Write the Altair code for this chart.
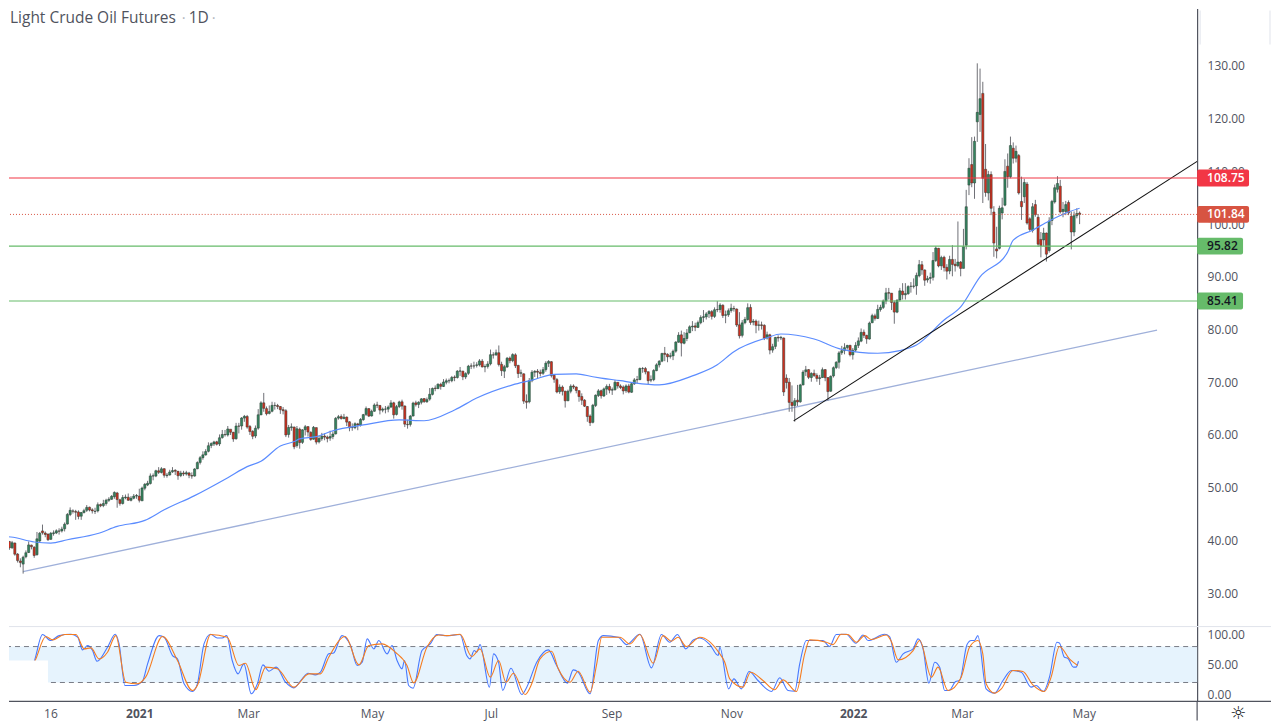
import altair as alt
import pandas as pd

# daily candles, Oct 2020 - Apr 2022
opens = [
    41.70, 40.10, 40.64, 39.80, 38.60, 39.50, 37.40, 36.10, 35.50, 36.90,
    37.70, 39.10, 38.70, 37.30, 39.90, 41.80, 41.40, 41.20, 40.20, 41.30,
    41.40, 41.80, 41.80, 42.20, 43.10, 44.90, 45.60, 45.50, 45.40,
    44.60, 45.30, 45.70, 46.30, 45.80, 45.50, 45.60, 46.80, 46.60, 47.00,
    47.60, 47.80, 48.30, 49.00, 47.70, 47.00, 48.10, 48.20, 47.60, 48.00,
    48.40, 48.40, 47.50, 49.90, 50.50, 50.80, 52.20, 52.20, 53.20, 52.90,
    53.60, 52.30, 52.40, 53.00, 53.30, 53.10, 52.30, 52.80, 52.60, 52.80,
    52.30, 52.20, 53.60, 54.80, 55.70, 56.20, 56.90, 58.00, 58.30, 58.70,
    58.30, 59.50, 60.10, 60.00, 61.10, 60.50, 59.30, 61.70, 61.70, 63.20,
    63.50, 61.60, 60.70, 59.80, 61.30, 63.80, 66.10, 65.00, 64.10, 64.50,
    65.60, 65.60, 65.40, 64.80, 64.60, 60.10, 61.40, 61.50, 58.00, 61.10,
    58.60, 61.00, 61.60, 60.50, 59.20, 61.40, 58.70, 59.30, 59.80, 59.60,
    59.40, 59.70, 60.20, 63.20, 63.50, 63.10, 63.40, 62.50, 61.40, 61.40,
    62.10, 61.90, 62.90, 63.90, 65.00, 63.60, 64.50, 65.70, 65.60, 64.70,
    64.90, 64.90, 65.30, 66.10, 63.90, 65.40, 66.30, 65.50, 62.00, 62.00,
    63.60, 66.10, 65.80, 66.20, 66.90, 66.30, 66.80, 67.70, 68.90, 68.80,
    69.60, 69.20, 70.00, 70.30, 70.30, 71.00, 70.90, 72.10, 72.10, 71.00,
    71.70, 73.10, 73.10, 73.20, 73.30, 74.00, 72.90, 73.00, 73.50, 75.20,
    75.20, 75.60, 73.40, 72.10, 72.90, 74.60, 74.10, 75.20, 73.20, 71.70,
    71.60, 66.40, 66.30, 70.30, 71.90, 72.10, 71.90, 71.70, 72.40, 73.60,
    73.90, 71.30, 70.50, 68.20, 69.10, 68.30, 66.50, 68.30, 69.30, 69.10,
    68.40, 67.30, 66.60, 65.40, 63.60, 62.40, 65.60, 67.50, 68.40, 67.40,
    68.70, 69.20, 68.50, 68.60, 70.00, 69.30, 69.10, 68.40, 69.30, 68.10,
    69.70, 70.50, 70.50, 72.60, 72.60, 72.00, 70.40, 70.50, 72.20, 73.30,
    74.00, 75.50, 75.30, 74.90, 75.00, 75.90, 77.60, 79.00, 77.40, 78.30,
    79.40, 80.50, 80.70, 80.40, 81.30, 82.30, 82.40, 83.00, 83.40, 82.50,
    83.80, 83.80, 84.60, 82.70, 82.80, 83.60, 84.00, 83.90, 80.90, 78.90,
    81.30, 81.90, 84.20, 81.40, 81.60, 80.80, 80.90, 80.80, 78.40, 79.00,
    76.10, 76.80, 78.50, 78.40, 78.40, 70.80, 70.00, 66.20, 65.60, 66.60,
    66.30, 69.50, 72.00, 72.40, 70.90, 71.70, 71.30, 70.70, 70.90, 72.40,
    70.90, 68.30, 71.20, 72.80, 73.80, 75.60, 76.00, 76.60, 77.00, 75.20,
    76.10, 77.00, 77.80, 79.50, 78.90, 78.20, 81.30, 82.60, 82.10, 83.80,
    84.20, 85.40, 87.00, 86.90, 85.10, 83.30, 85.60, 87.30, 86.60, 86.80,
    88.20, 88.20, 88.30, 90.20, 92.30, 91.30, 89.40, 89.70, 89.90, 93.10,
    95.40, 92.10, 93.70, 91.80, 91.10, 93.30, 92.40, 92.10, 92.80, 91.60,
    96.00, 107.40, 111.30, 107.80, 119.40, 120.80, 124.80, 110.40, 105.90, 109.40,
    102.30, 95.30, 95.40, 102.10, 103.60, 111.00, 109.00, 114.40, 112.50, 113.00,
    104.30, 105.20, 107.60, 101.00, 98.80, 103.70, 101.30, 97.10, 97.00, 98.30,
    95.00, 100.70, 104.20, 106.60, 107.20, 102.40, 102.40, 104.10, 101.50, 98.50,
    101.60, 102.10,
]
highs = [
    41.90, 41.20, 40.80, 39.90, 39.90, 39.60, 37.60, 36.60, 37.10, 38.10,
    39.80, 39.20, 38.90, 41.60, 41.60, 43.00, 41.70, 41.30, 41.60, 41.90,
    42.10, 42.30, 42.60, 43.40, 45.20, 46.26, 45.90, 45.80, 45.70,
    45.40, 46.00, 46.70, 46.40, 46.10, 46.20, 47.20, 47.00, 47.70, 47.90,
    48.20, 48.60, 49.30, 49.20, 47.90, 48.60, 48.70, 48.90, 48.40, 48.80,
    48.80, 49.80, 50.20, 50.90, 51.30, 52.70, 52.70, 53.40, 53.90, 53.90,
    53.70, 52.80, 53.40, 53.90, 53.50, 53.20, 53.20, 53.20, 53.20, 53.00,
    52.90, 53.70, 55.00, 56.00, 56.90, 57.30, 58.60, 58.60, 58.90, 58.90,
    60.10, 60.95, 60.95, 61.70, 61.00, 60.60, 62.30, 62.30, 63.40, 63.80,
    63.80, 61.90, 60.90, 61.80, 64.90, 66.40, 67.98, 65.40, 65.60, 66.30,
    66.20, 65.90, 65.50, 65.30, 64.90, 61.90, 62.20, 61.60, 61.70, 61.40,
    61.10, 61.90, 61.60, 60.70, 61.70, 61.40, 59.90, 60.40, 60.30, 59.90,
    60.80, 60.70, 63.40, 63.80, 63.90, 64.00, 63.50, 62.60, 62.20, 62.40,
    62.30, 63.20, 64.00, 65.40, 65.10, 64.80, 66.00, 66.30, 65.70, 65.20,
    65.50, 65.60, 66.60, 66.30, 65.70, 66.50, 66.70, 65.60, 62.90, 63.80,
    66.30, 66.50, 66.40, 67.00, 67.00, 67.10, 68.90, 69.00, 69.40, 69.80,
    69.90, 70.60, 70.70, 70.70, 71.20, 71.30, 72.30, 72.90, 72.20, 71.90,
    73.30, 73.60, 73.90, 73.80, 74.40, 74.40, 73.40, 74.00, 76.20, 75.70,
    76.20, 76.98, 73.90, 73.30, 74.80, 74.90, 75.50, 75.50, 73.30, 72.40,
    71.70, 67.70, 70.80, 72.30, 72.30, 72.50, 72.40, 72.90, 74.00, 74.20,
    74.00, 71.50, 70.80, 69.60, 69.40, 68.40, 68.60, 69.60, 69.60, 69.20,
    68.50, 67.90, 66.80, 65.50, 63.90, 65.90, 67.70, 68.70, 68.60, 69.00,
    69.60, 69.70, 69.00, 70.40, 70.00, 69.60, 69.40, 69.60, 69.70, 70.00,
    70.80, 71.20, 72.80, 72.90, 72.90, 72.00, 71.30, 72.50, 73.60, 74.20,
    75.60, 76.70, 75.50, 75.60, 76.20, 77.80, 79.50, 79.80, 79.50, 80.10,
    80.80, 81.60, 81.30, 81.70, 82.70, 83.70, 83.30, 83.70, 83.70, 84.20,
    85.40, 85.00, 84.80, 83.60, 84.00, 84.90, 84.50, 84.00, 83.30, 81.80,
    82.40, 84.97, 84.80, 82.00, 81.90, 81.70, 81.50, 81.00, 79.60, 79.20,
    77.30, 78.60, 78.90, 78.80, 78.50, 71.50, 70.80, 69.40, 67.00, 69.50,
    69.70, 72.30, 73.10, 72.50, 71.90, 72.40, 71.70, 71.40, 72.80, 72.50,
    70.90, 71.30, 73.00, 74.00, 75.90, 76.90, 77.40, 77.10, 77.10, 76.50,
    77.60, 78.50, 80.20, 80.00, 79.00, 81.50, 83.00, 83.00, 84.70, 84.70,
    85.70, 87.90, 87.90, 86.90, 85.50, 85.70, 87.90, 88.80, 88.80, 88.40,
    89.00, 89.70, 90.80, 93.20, 93.00, 91.40, 90.20, 90.80, 94.70, 95.80,
    95.50, 94.00, 94.00, 92.40, 94.00, 96.00, 93.40, 100.50, 93.00, 99.10,
    106.50, 112.50, 116.50, 116.60, 130.50, 129.50, 127.00, 115.20, 110.10, 110.00,
    103.40, 99.50, 103.50, 105.00, 112.30, 113.40, 116.60, 115.50, 114.90, 113.30,
    109.00, 108.60, 108.00, 101.30, 104.00, 104.60, 101.90, 98.50, 99.30, 98.40,
    101.30, 104.60, 107.50, 109.10, 108.40, 104.20, 104.40, 104.50, 102.40, 102.40,
    103.00, 102.40,
]
lows = [
    39.80, 39.70, 39.40, 38.20, 38.40, 37.10, 35.80, 34.90, 33.70, 36.60,
    37.60, 38.30, 36.70, 37.10, 39.60, 41.10, 40.60, 39.90, 40.10, 40.90,
    41.20, 41.10, 41.50, 41.70, 43.00, 44.60, 45.10, 43.90, 44.00,
    43.90, 45.10, 45.40, 45.50, 45.10, 45.00, 45.30, 46.30, 46.30, 46.60,
    47.30, 47.70, 47.90, 46.20, 46.60, 46.80, 47.80, 47.50, 47.40, 47.80,
    47.90, 47.20, 47.50, 49.50, 50.30, 50.60, 51.40, 52.00, 52.60, 52.70,
    51.90, 51.90, 52.30, 52.80, 52.40, 51.50, 52.00, 52.20, 52.30, 51.80,
    51.70, 52.10, 53.50, 54.40, 55.30, 56.10, 56.70, 57.50, 57.90, 58.00,
    57.90, 59.30, 59.70, 59.70, 60.00, 58.70, 59.10, 60.30, 61.00, 62.50,
    61.20, 60.00, 59.20, 59.40, 61.00, 63.80, 64.40, 63.70, 63.90, 64.30,
    64.80, 64.90, 64.00, 63.90, 59.60, 59.50, 60.80, 57.30, 57.60, 57.40,
    58.30, 59.90, 59.70, 58.90, 59.10, 58.20, 58.40, 58.90, 59.00, 58.60,
    58.90, 59.20, 60.10, 62.90, 62.90, 63.00, 61.70, 60.70, 60.80, 61.10,
    60.90, 61.60, 62.70, 63.60, 63.40, 63.50, 64.40, 65.10, 63.90, 64.30,
    64.10, 64.30, 65.10, 63.10, 63.70, 65.10, 64.80, 61.50, 61.20, 61.60,
    63.50, 65.40, 65.10, 65.80, 66.10, 66.10, 66.50, 67.50, 68.30, 68.70,
    68.60, 69.10, 69.60, 69.80, 70.00, 70.20, 70.70, 71.20, 70.40, 70.60,
    71.40, 72.50, 72.60, 72.80, 73.00, 72.80, 71.90, 72.60, 73.20, 74.50,
    75.00, 73.00, 71.20, 70.80, 72.70, 73.60, 73.80, 72.70, 70.80, 71.00,
    65.90, 65.00, 66.00, 70.00, 71.00, 70.80, 71.10, 71.40, 72.00, 72.90,
    70.90, 69.90, 67.90, 67.80, 67.50, 65.20, 66.40, 67.90, 68.70, 67.90,
    66.30, 65.70, 65.30, 62.50, 61.70, 62.20, 65.30, 67.20, 66.90, 67.20,
    67.60, 67.90, 67.60, 68.40, 68.80, 68.70, 67.70, 68.00, 67.90, 68.00,
    69.50, 69.80, 70.40, 71.80, 71.50, 69.60, 70.00, 70.20, 72.10, 72.80,
    73.80, 74.00, 73.80, 74.50, 74.20, 75.60, 77.50, 74.90, 77.20, 77.80,
    79.30, 79.70, 79.70, 80.30, 81.00, 81.40, 81.90, 82.20, 81.90, 82.20,
    83.30, 83.20, 82.20, 81.20, 82.40, 83.20, 83.40, 80.50, 78.30, 78.50,
    81.00, 81.70, 80.90, 80.80, 79.30, 79.80, 80.00, 78.00, 78.10, 75.30,
    75.60, 76.30, 77.70, 78.00, 67.40, 68.80, 64.40, 64.40, 62.50, 65.50,
    66.10, 69.40, 71.20, 70.60, 70.10, 71.00, 70.10, 69.50, 70.80, 70.20,
    66.50, 68.20, 70.90, 72.50, 72.60, 75.20, 75.30, 76.20, 74.90, 74.30,
    75.70, 76.50, 77.60, 78.40, 77.30, 78.10, 81.20, 81.70, 82.00, 83.40,
    83.90, 84.80, 85.70, 83.70, 81.10, 83.10, 85.30, 85.70, 85.70, 86.60,
    87.00, 87.80, 86.60, 89.90, 90.40, 88.30, 88.90, 88.70, 89.30, 92.80,
    91.80, 91.30, 91.00, 89.50, 90.50, 90.10, 91.00, 91.80, 90.10, 91.60,
    95.20, 105.50, 107.00, 104.80, 115.60, 117.50, 104.00, 105.20, 104.50, 101.70,
    93.80, 93.50, 95.20, 100.90, 103.40, 106.90, 108.70, 111.50, 111.70, 105.60,
    100.80, 104.00, 99.90, 98.60, 98.40, 101.40, 95.70, 93.70, 95.80, 92.90,
    94.60, 99.80, 103.90, 106.00, 102.00, 101.30, 101.70, 101.70, 95.20, 97.70,
    101.10, 100.00,
]
closes = [
    40.03, 40.64, 39.85, 38.56, 39.57, 37.39, 36.17, 35.79, 36.81, 37.66,
    39.15, 38.79, 37.14, 40.29, 41.36, 41.45, 41.12, 40.13, 41.34, 41.43,
    41.82, 41.74, 42.15, 43.06, 44.91, 45.71, 45.53, 45.34, 44.55,
    45.28, 45.64, 46.26, 45.76, 45.60, 45.52, 46.78, 46.57, 46.99, 47.62,
    47.82, 48.36, 49.10, 47.74, 47.02, 48.12, 48.23, 47.62, 48.00, 48.40,
    48.52, 47.62, 49.93, 50.63, 50.83, 52.24, 52.25, 53.21, 52.91, 53.57,
    52.36, 52.40, 52.98, 53.24, 53.13, 52.27, 52.77, 52.61, 52.85, 52.34,
    52.20, 53.55, 54.76, 55.69, 56.23, 56.85, 57.97, 58.36, 58.68, 58.24,
    59.47, 60.10, 60.05, 61.14, 60.52, 59.24, 61.70, 61.67, 63.22, 63.53,
    61.50, 60.64, 59.75, 61.28, 63.83, 66.09, 65.05, 64.01, 64.44, 65.61,
    65.61, 65.39, 64.80, 64.60, 60.00, 61.42, 61.55, 57.76, 61.18, 58.56,
    60.97, 61.56, 60.55, 59.16, 61.45, 58.65, 59.33, 59.77, 59.60, 59.32,
    59.70, 60.18, 63.15, 63.46, 63.13, 63.38, 62.44, 61.35, 61.43, 62.14,
    61.91, 62.94, 63.86, 65.01, 63.58, 64.49, 65.69, 65.63, 64.71, 64.90,
    64.92, 65.28, 66.08, 63.82, 65.37, 66.27, 65.49, 62.05, 61.94, 63.58,
    66.05, 65.76, 66.21, 66.85, 66.32, 66.70, 67.72, 68.83, 68.81, 69.62,
    69.23, 70.05, 70.29, 70.29, 70.91, 70.88, 72.12, 72.15, 71.04, 71.64,
    73.06, 73.06, 73.08, 73.30, 74.05, 72.91, 72.98, 73.47, 75.23, 75.16,
    75.60, 73.37, 72.20, 72.94, 74.56, 74.10, 75.25, 73.13, 71.65, 71.81,
    66.42, 66.20, 70.30, 71.91, 72.07, 71.91, 71.65, 72.39, 73.62, 73.95,
    71.26, 70.56, 68.15, 69.09, 68.28, 66.48, 68.29, 69.25, 69.09, 68.44,
    67.29, 66.59, 65.46, 63.50, 62.32, 65.64, 67.54, 68.36, 67.42, 68.74,
    69.21, 68.50, 68.59, 69.99, 69.29, 69.00, 68.35, 69.30, 68.14, 69.72,
    70.45, 70.46, 72.61, 72.61, 71.97, 70.29, 70.49, 72.23, 73.30, 73.98,
    75.45, 75.29, 74.83, 75.03, 75.88, 77.62, 78.93, 77.43, 78.30, 79.35,
    80.52, 80.64, 80.44, 81.31, 82.28, 82.44, 82.96, 83.42, 82.50, 83.76,
    83.76, 84.65, 82.66, 82.81, 83.57, 84.05, 83.91, 80.86, 78.81, 81.27,
    81.93, 84.15, 81.34, 81.59, 80.79, 80.88, 80.76, 78.36, 79.01, 76.10,
    76.75, 78.50, 78.39, 78.50, 68.15, 69.95, 66.18, 65.57, 66.50, 66.26,
    69.49, 71.93, 72.36, 70.94, 71.67, 71.29, 70.73, 70.87, 72.38, 70.86,
    68.23, 71.12, 72.76, 73.79, 75.57, 75.98, 76.56, 76.99, 75.21, 76.08,
    76.99, 77.85, 79.46, 78.90, 78.23, 81.22, 82.64, 82.12, 83.82, 84.20,
    85.43, 86.96, 86.90, 85.14, 83.31, 85.60, 87.35, 86.61, 86.82, 88.15,
    88.20, 88.26, 90.27, 92.31, 91.32, 89.36, 89.66, 89.88, 93.10, 95.46,
    92.07, 93.66, 91.76, 91.07, 93.30, 92.35, 92.10, 92.81, 91.59, 95.72,
    103.30, 110.60, 107.80, 115.70, 121.20, 123.80, 108.70, 106.00, 109.40, 103.00,
    96.40, 94.90, 103.00, 103.10, 110.00, 109.00, 114.90, 112.50, 113.80, 105.90,
    103.30, 107.90, 100.20, 99.00, 103.30, 101.80, 96.20, 95.90, 98.30, 94.30,
    100.60, 104.30, 106.90, 107.70, 102.30, 102.80, 103.70, 102.10, 98.50, 101.60,
    102.00, 101.84,
]

# moving average, read at points along the line
ma_bar = [0, 3.6, 12, 18, 24, 35, 42, 52, 59, 70, 82, 89, 94, 101, 106, 108, 114, 120, 131, 144,
          153, 164, 172, 185, 192, 200, 208, 214, 217, 224, 229, 238, 250, 259, 265, 277, 282,
          294, 304, 317, 325, 331, 341, 347, 354, 364, 366, 373, 379, 385, 390]
ma_price = [40.76, 40.65, 39.7, 39.5, 40.13, 41.3, 42.65, 43.8, 45.8, 48.5, 51.9, 54.0, 55.0, 57.9,
            58.75, 59.25, 59.7, 60.8, 61.9, 62.85, 62.7, 64.75, 67.0, 69.5, 70.4, 71.5, 71.6, 71.05,
            70.8, 70.3, 69.9, 69.5, 71.2, 73.3, 75.8, 78.45, 79.15, 78.2, 76.25, 75.5, 76.0, 77.05,
            81.8, 84.3, 90.0, 94.7, 96.95, 98.85, 100.6, 102.1, 103.0]

# stochastic %K
k_bar = [0, 2.2, 11.4, 15, 18, 21, 25.3, 27.7, 29.5, 31.3, 33.1, 34.7, 38.5, 41.3, 42.7, 44.8, 48.1,
         51.1, 53, 57.2, 59, 62, 63.8, 66.2, 69.2, 71, 73.4, 75.8, 78.2, 80, 81.6, 83.6, 85.7, 87.8,
         90.5, 92.7, 94.7, 96.9, 99.5, 102.9, 105.9, 108.9, 111, 113.7, 115.5, 118.5, 120.3, 123.3,
         126.4, 128.8, 130.6, 132.4, 134.8, 136.6, 139.6, 141.4, 143.2, 145, 145.9, 147.4, 149,
         152.2, 155.2, 157.6, 161.2, 166, 168.4, 169.6, 171.1, 172, 173.2, 176.6, 178.1, 179.9,
         181.4, 184.4, 188.3, 190.1, 193.7, 197.9, 200.9, 204.8, 206.9, 208.7, 213, 216, 217.8,
         223.2, 226.2, 231, 235.2, 238.8, 241.8, 244.6, 247.6, 250.3, 252.7, 256.3, 259.3, 259.9,
         263.1, 265, 267.7, 270.5, 273.7, 278.6, 281.6, 284.6, 287, 288.8, 291.2, 297.2, 299.6,
         302, 305.6, 309.1, 311.7, 313.5, 319.5, 321.3, 323.7, 326.2, 329.8, 331.6, 333.4, 335.5,
         337.6, 339.4, 341.2, 342.8, 345.2, 346.6, 349.3, 350.8, 352, 353.2, 356.2, 359.2, 362.3,
         365.3, 368.9, 372.5, 374.3, 376.9, 379.1, 381.8, 382.7, 384.5, 385.7, 387.8, 388.7, 389.6]
k_val = [81.7, 40, 50, 100, 90, 98.3, 100.5, 95.6, 74.4, 81.7, 73.3, 55.5, 78.9, 100.5, 84.4, 15, 15,
         21.7, 51.1, 98.3, 95.6, 65, 59.4, 17.8, 5, 17.8, 84.4, 100.5, 94.4, 94.4, 98.3, 56.7, 34.4, 51.1,
         1.1, 17.8, 49.4, 38.9, 45.6, 20.5, 11.1, 26.1, 35.5, 32.8, 37.2, 67.8, 69.4, 98.3,
         81.7, 48.3, 53.9, 92.8, 76.1, 90, 67.8, 81.7, 56.7, 42.8, 56.7, 15, 10.5,
         73.3, 84.4, 100, 98.3, 100, 65, 59.4, 73.3, 70.5, 83.3, 12.2, 67.8, 53.9,
         6.7, 43.9, 0, 12.2, 53.9, 74.4, 48.3, 18.9, 41.1, 37.2, 1.1, 90, 98.3,
         95.6, 83.3, 100.5, 44.4, 100, 87.2, 100, 76.1, 91.1, 94.4, 83.3, 65, 78.9,
         9.4, 26.1, 9.4, 38.3, 23.3, 5, 27.8, 6.7, 5.6, 51.1, 90, 90, 80,
         100, 100.5, 85.6, 99.4, 90, 100.5, 96.7, 53.9, 67.8, 76.1, 92.8, 76.1, 18.9,
         53.9, 45.6, 6.7, 6.7, 21.7, 23.3, 83.3, 90, 90, 98.3, 9.4, 2.2, 23.3,
         40, 37.2, 12.2, 15, 5, 28.9, 87.2, 86.1, 62.2, 60.5, 45.6, 45.6, 55.5]

# stochastic %D
d_bar = [0, 2.4, 11.4, 16.2, 18.7, 22.9, 27.1, 30.1, 32.5, 35.5, 38.5, 41.5, 45.1, 49.3, 52.3, 58.4,
         63.8, 69.2, 71, 75.8, 81.8, 86, 88.4, 92.1, 95.7, 99.9, 105.9, 111.3, 115.5, 118.5, 124.5,
         129.4, 133, 137.8, 142.6, 146.8, 149.2, 154, 158.2, 161.2, 166, 170.2, 173.2, 176.9, 179.9,
         182.6, 185.3, 189.5, 191.9, 194.9, 199.1, 201.5, 205.7, 208.7, 213, 215.4, 217.2, 223.8,
         227.4, 231, 235.8, 239.4, 242.4, 244.8, 247.8, 252.7, 259.9, 261.7, 263.5, 268.3, 271,
         275.5, 279.7, 282.8, 287.6, 290.6, 292.4, 298.4, 300.8, 303.8, 306.2, 309.3, 312.3, 314.7,
         320.1, 321.9, 324.4, 329.8, 332.2, 336.4, 338.8, 342.4, 347.2, 350.2, 353.2, 355, 356.2,
         359.2, 361.7, 365.9, 369.5, 373.1, 377.3, 379.7, 382.7, 386.3, 389.3]
d_val = [90, 40, 50, 96.7, 91.1, 100, 100, 76.1, 77.8, 59.4, 70.5, 98.3, 20.5, 17.8, 28.9, 96.7,
         56.7, 6.7, 15, 100, 95.6, 48.3, 52.2, 7.8, 45.6, 42.8, 12.2, 34.4, 34.4, 62.2, 96.7,
         49.4, 81.7, 84.4, 70.5, 48.3, 19.4, 78.9, 99.4, 98.3, 100.5, 63.3, 76.1, 28.9, 56.7,
         20.5, 35.5, 0, 17.8, 59.4, 72.2, 42.8, 20.5, 38.9, 3.9, 51.1, 95.6, 95.6,
         84.4, 100, 52.2, 98.3, 88.9, 95.6, 80, 95.6, 67.8, 53.9, 26.1, 12.2, 37.2,
         23.3, 7.8, 24.4, 5, 67.8, 91.1, 87.2, 83.3, 100.5, 100, 87.2, 98.3, 91.7,
         99.4, 88.9, 57.8, 73.3, 90, 28.9, 45.6, 6.7, 28.9, 78.9, 90, 67.8, 17.8,
         2.2, 9.4, 40, 38.3, 16.1, 5, 28.9, 80, 59.4, 48.3]

# trendlines
slow_bar = [7.94, 418]
slow_price = [34.07, 79.9]
fast_bar = [286.6, 432.5]
fast_price = [62.67, 111.9]

# price levels and their tags
levels = [108.75, 95.82, 85.41]
level_colors = ["#f23645", "#66bb6a", "#66bb6a"]
last_price = 101.84

tick_bars = [18.05, 50.18, 89.53, 134.3, 177.25, 220.94, 264.26, 308.3, 347.65, 391.7]
tick_labels = ["16", "2021", "Mar", "May", "Jul", "Sep", "Nov", "2022", "Mar", "May"]
tick_weights = ["normal", "bold", "normal", "normal", "normal", "normal", "normal", "bold", "normal", "normal"]

price_ticks = [130, 120, 110, 100, 90, 80, 70, 60, 50, 40, 30]
osc_ticks = [100, 50, 0]

FONT = "Open Sans"
TEXT = "#50535e"
PW = 1190
RIGHT = 1264
x_scale = alt.Scale(domain=[8 / 2.77, 1198 / 2.77], nice=False, zero=False, padding=0)
price_scale = alt.Scale(domain=[23.84, 140.89], nice=False, zero=False)
osc_scale = alt.Scale(domain=[-11.67, 113.33], nice=False, zero=False)

df = pd.DataFrame({"bar": range(len(opens)), "open": opens, "high": highs, "low": lows, "close": closes})
df["dir"] = ["up" if c >= o else "down" for o, c in zip(opens, closes)]


def line(bars, vals, color, scale, width=1.0, **kw):
    data = pd.DataFrame({"bar": bars, "v": vals, "o": range(len(bars))})
    return alt.Chart(data).mark_line(color=color, strokeWidth=width, clip=True, **kw).encode(
        x=alt.X("bar:Q", scale=x_scale, axis=None),
        y=alt.Y("v:Q", scale=scale, axis=None),
        order="o:Q",
    )


def label(txt, x, y, size=15.5, color=TEXT):
    return alt.Chart(pd.DataFrame({"t": [txt]})).mark_text(
        align="left", baseline="middle", font=FONT, fontSize=size, color=color, clip=False
    ).encode(x=alt.value(x), y=alt.value(y), text="t:N")


price_axis = alt.Chart(pd.DataFrame({"v": price_ticks})).mark_point(opacity=0).encode(
    y=alt.Y("v:Q", scale=price_scale, title=None, axis=alt.Axis(
        orient="right", values=price_ticks, format=".2f", grid=False, ticks=False, labelPadding=10,
        labelFont=FONT, labelFontSize=12, labelColor=TEXT, domainColor=TEXT, domainWidth=1.2)),
    x=alt.value(50),
)

wicks = alt.Chart(df).mark_rule(color="#6f7076", strokeWidth=1, clip=True).encode(
    x=alt.X("bar:Q", scale=x_scale, axis=None),
    y=alt.Y("low:Q", scale=price_scale, axis=None),
    y2="high:Q",
)
bodies = alt.Chart(df).mark_bar(size=2.2, stroke="#2c3a33", strokeWidth=0.5, clip=True).encode(
    x=alt.X("bar:Q", scale=x_scale, axis=None),
    y=alt.Y("open:Q", scale=price_scale, axis=None),
    y2="close:Q",
    color=alt.Color("dir:N", legend=None, scale=alt.Scale(domain=["up", "down"], range=["#34855f", "#cf2f1f"])),
)

level_df = pd.DataFrame({"price": levels, "color": level_colors})
level_rules = alt.Chart(level_df).mark_rule(strokeWidth=1.1).encode(
    y=alt.Y("price:Q", scale=price_scale, axis=None),
    color=alt.Color("color:N", scale=None, legend=None),
)
last_rule = alt.Chart(pd.DataFrame({"price": [last_price]})).mark_rule(
    color="#d75442", strokeWidth=1, strokeDash=[1, 2]
).encode(y=alt.Y("price:Q", scale=price_scale, axis=None))


def tag(price, fill, text_color, right):
    data = pd.DataFrame({"price": [price], "lo": [price - 1.6], "hi": [price + 1.6], "t": [f"{price:.2f}"]})
    box = alt.Chart(data).mark_rect(fill=fill, cornerRadius=2, clip=False).encode(
        x=alt.value(PW), x2=alt.value(right),
        y=alt.Y("lo:Q", scale=price_scale, axis=None), y2="hi:Q",
    )
    txt = alt.Chart(data).mark_text(
        color=text_color, font=FONT, fontSize=12, fontWeight=600, align="left", clip=False
    ).encode(x=alt.value(PW + 10), y=alt.Y("price:Q", scale=price_scale, axis=None), text="t:N")
    return [box, txt]


box_left = alt.Chart(pd.DataFrame({"a": [0]})).mark_rule(color="#e0e3eb").encode(
    x=alt.value(1193), y=alt.value(2), y2=alt.value(36))
box_right = alt.Chart(pd.DataFrame({"a": [0]})).mark_rule(color="#e0e3eb").encode(
    x=alt.value(1263), y=alt.value(2), y2=alt.value(36))

top = alt.layer(
    price_axis,
    line(slow_bar, slow_price, "#9fb0da", price_scale, 1.3),
    wicks,
    bodies,
    line(ma_bar, ma_price, "#5b8cff", price_scale, 1.2, interpolate="monotone"),
    line(fast_bar, fast_price, "#111111", price_scale, 1.1),
    level_rules,
    last_rule,
    *tag(108.75, "#f23645", "white", PW + 52),
    *tag(101.84, "#d75442", "white", PW + 52),
    *tag(95.82, "#66bb6a", "#131722", PW + 46),
    *tag(85.41, "#66bb6a", "#131722", PW + 46),
    label("Light Crude Oil Futures", 1, 9),
    label("·", 173, 9, 15, "#b2b5be"),
    label("1D", 180, 9),
    label("·", 203, 9, 15, "#b2b5be"),
    box_left,
    box_right,
).resolve_axis(y="independent").properties(width=PW, height=618)

osc_axis = alt.Chart(pd.DataFrame({"v": osc_ticks})).mark_point(opacity=0).encode(
    y=alt.Y("v:Q", scale=osc_scale, title=None, axis=alt.Axis(
        orient="right", values=osc_ticks, format=".2f", grid=False, ticks=False, labelPadding=10,
        labelFont=FONT, labelFontSize=12, labelColor=TEXT, domainColor=TEXT, domainWidth=1.2)),
    x=alt.value(50),
)
band = alt.Chart(pd.DataFrame({"lo": [20], "hi": [80]})).mark_rect(fill="#e6f3fd").encode(
    x=alt.value(0), x2=alt.value(PW),
    y=alt.Y("lo:Q", scale=osc_scale, axis=None), y2="hi:Q",
)
band_rules = alt.Chart(pd.DataFrame({"v": [80, 20]})).mark_rule(
    color="#787b86", strokeWidth=1, strokeDash=[5, 4]
).encode(y=alt.Y("v:Q", scale=osc_scale, axis=None))
patch = alt.Chart(pd.DataFrame({"a": [0]})).mark_rect(fill="white").encode(
    x=alt.value(0), x2=alt.value(39), y=alt.value(34), y2=alt.value(70))
sep = alt.Chart(pd.DataFrame({"a": [0]})).mark_rule(color="#e0e3eb", strokeWidth=1).encode(
    x=alt.value(0), x2=alt.value(RIGHT), y=alt.value(0))
bottom_line = alt.Chart(pd.DataFrame({"a": [0]})).mark_rule(color=TEXT, strokeWidth=1.2).encode(
    x=alt.value(0), x2=alt.value(RIGHT), y=alt.value(75))
axis_tail = alt.Chart(pd.DataFrame({"a": [0]})).mark_rule(color=TEXT, strokeWidth=1.2).encode(
    x=alt.value(PW), y=alt.value(75), y2=alt.value(94))

tick_df = pd.DataFrame({"bar": tick_bars, "t": tick_labels, "w": tick_weights})
ticks_plain = alt.Chart(tick_df[tick_df.w == "normal"]).mark_text(
    font=FONT, fontSize=12, color=TEXT, clip=False
).encode(x=alt.X("bar:Q", scale=x_scale, axis=None), y=alt.value(88), text="t:N")
ticks_bold = alt.Chart(tick_df[tick_df.w == "bold"]).mark_text(
    font=FONT, fontSize=12, color=TEXT, fontWeight="bold", clip=False
).encode(x=alt.X("bar:Q", scale=x_scale, axis=None), y=alt.value(88), text="t:N")
gear = alt.Chart(pd.DataFrame({"t": ["☼"]})).mark_text(
    font="DejaVu Sans", fontSize=18, color="#131722", clip=False
).encode(x=alt.value(1231), y=alt.value(88), text="t:N")

bottom = alt.layer(
    osc_axis,
    band,
    band_rules,
    line(k_bar, k_val, "#2962ff", osc_scale, 1.1, opacity=0.85, interpolate="monotone"),
    line(d_bar, d_val, "#f57c20", osc_scale, 1.1, interpolate="monotone"),
    patch,
    sep,
    bottom_line,
    axis_tail,
    ticks_plain,
    ticks_bold,
    gear,
).resolve_axis(y="independent").properties(width=PW, height=75)

chart = alt.vconcat(top, bottom, spacing=0).properties(padding=0).configure_view(stroke=None)
chart.save("out.html", embed_options={"renderer": "svg", "actions": False})
